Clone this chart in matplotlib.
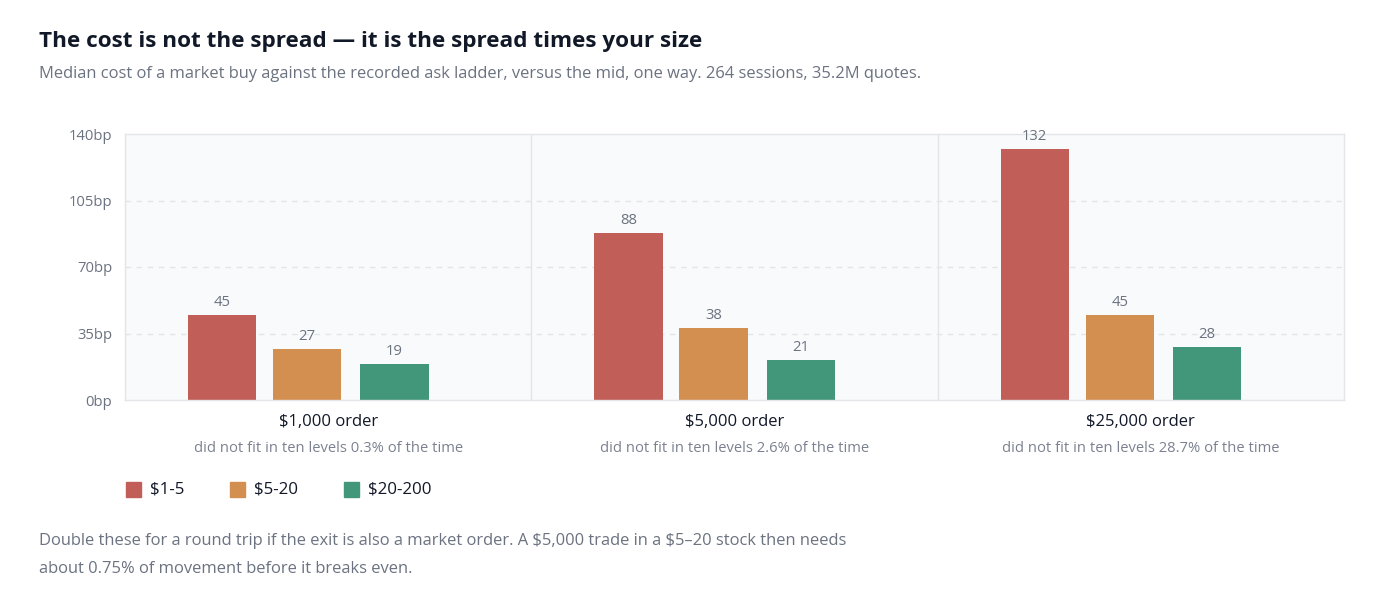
import matplotlib
matplotlib.use("Agg")
import matplotlib.pyplot as plt
from matplotlib.patches import Rectangle
import numpy as np

plt.rcParams['font.family'] = ['Open Sans', 'DejaVu Sans']
plt.rcParams['text.parse_math'] = False

categories = ["$1,000 order", "$5,000 order", "$25,000 order"]
subcaptions = ["did not fit in ten levels 0.3% of the time",
               "did not fit in ten levels 2.6% of the time",
               "did not fit in ten levels 28.7% of the time"]
series_names = ["$1-5", "$5-20", "$20-200"]
cost_1_5 = [45, 88, 132]
cost_5_20 = [27, 38, 45]
cost_20_200 = [19, 21, 28]
yticks = [0, 35, 70, 105, 140]
ytick_labels = ["0bp", "35bp", "70bp", "105bp", "140bp"]

colors = ["#c15e58", "#d38f4f", "#42967a"]
series = [cost_1_5, cost_5_20, cost_20_200]
offsets = [-0.261, -0.052, 0.163]
bar_w = 0.168

W, H = 1400, 599
fig = plt.figure(figsize=(W / 100, H / 100), dpi=100)
fig.patch.set_facecolor("white")

left, right, top, bottom = 125, 1344, 134, 400
ax = fig.add_axes([left / W, 1 - bottom / H, (right - left) / W, (bottom - top) / H])
ax.set_facecolor("#f9fafb")
ax.set_xlim(-0.5, 2.5)
ax.set_ylim(0, 140)

for y in [35, 70, 105]:
    ax.axhline(y, color="#e2e5ea", lw=1, ls=(0, (4, 4)), zorder=1)
for x in [0.5, 1.5]:
    ax.axvline(x, color="#e3e5e9", lw=1, zorder=1)

for s, vals, col, off in zip(series_names, series, colors, offsets):
    xs = np.arange(len(categories)) + off
    ax.bar(xs, vals, width=bar_w, color=col, zorder=2, label=s)
    for x, v in zip(xs, vals):
        ax.text(x, v + 2.5, f"{v}", ha="center", va="bottom", fontsize=10.7,
                color="#6b7280", zorder=3)

for sp in ax.spines.values():
    sp.set_color("#e3e5e9")
    sp.set_linewidth(1)

ax.set_xticks([])
ax.set_yticks(yticks)
ax.set_yticklabels(ytick_labels, fontsize=10.7, color="#6b7280")
ax.tick_params(axis="y", length=0, pad=9)

panel_w = (right - left) / 3
for i, (c, sc) in enumerate(zip(categories, subcaptions)):
    cx = (left + panel_w * (i + 0.5)) / W
    fig.text(cx, 1 - 422 / H, c, ha="center", va="center", fontsize=12, color="#111827")
    fig.text(cx, 1 - 448 / H, sc, ha="center", va="center", fontsize=10.6, color="#7b8190")

# legend
leg_x = [126, 230, 344]
for x0, name, col in zip(leg_x, series_names, colors):
    fig.patches.append(Rectangle((x0 / W, 1 - 497 / H), 15 / W, 15 / H,
                                 transform=fig.transFigure, color=col))
    fig.text((x0 + 24) / W, 1 - 489.5 / H, name, ha="left", va="center",
             fontsize=12.2, color="#111827")

fig.text(39 / W, 1 - 41 / H, "The cost is not the spread \u2014 it is the spread times your size",
         ha="left", va="center", fontsize=16.2, fontweight="bold", color="#111827")
fig.text(39 / W, 1 - 74 / H,
         "Median cost of a market buy against the recorded ask ladder, versus the mid, one way. 264 sessions, 35.2M quotes.",
         ha="left", va="center", fontsize=11.9, color="#6b7280")
fig.text(39 / W, 1 - 541 / H,
         "Double these for a round trip if the exit is also a market order. A $5,000 trade in a $5\u201320 stock then needs",
         ha="left", va="center", fontsize=11.9, color="#6b7280")
fig.text(39 / W, 1 - 569 / H,
         "about 0.75% of movement before it breaks even.",
         ha="left", va="center", fontsize=11.9, color="#6b7280")

fig.savefig("out.png", dpi=100, facecolor="white")
